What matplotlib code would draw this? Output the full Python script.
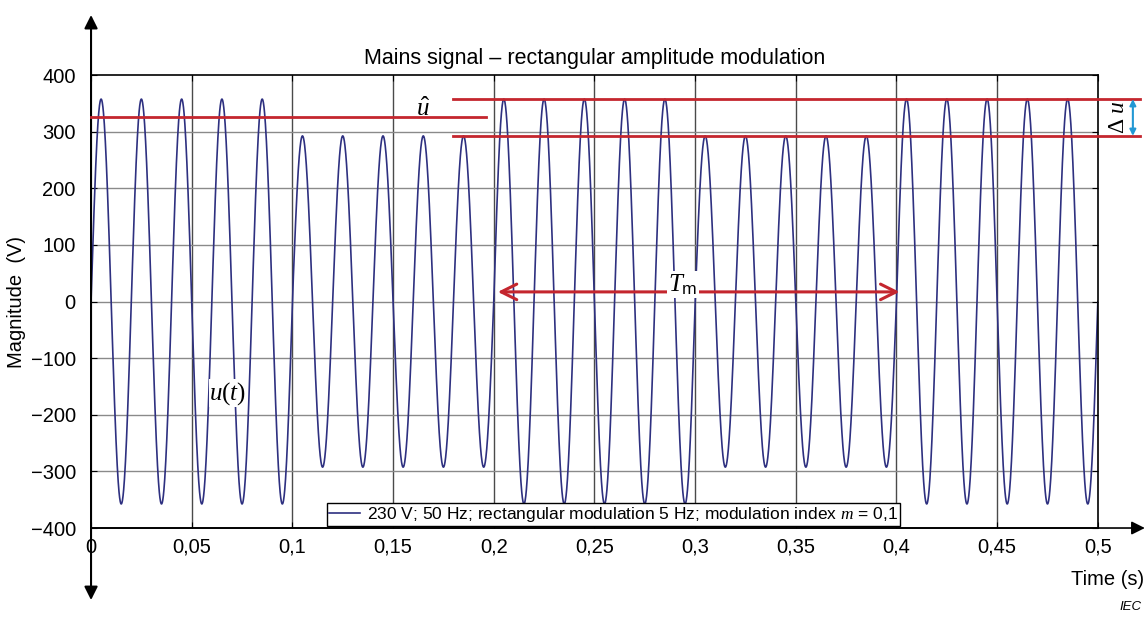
import numpy as np
import matplotlib
matplotlib.use("Agg")
import matplotlib.pyplot as plt

plt.rcParams['font.family'] = ['Liberation Sans', 'DejaVu Sans']
plt.rcParams['mathtext.fontset'] = 'custom'
plt.rcParams['mathtext.rm'] = 'Liberation Serif'
plt.rcParams['mathtext.it'] = 'Liberation Serif:italic'
plt.rcParams['mathtext.sf'] = 'Liberation Sans'

# signal description (from legend / picture)
mains_freq = 50.0                      # Hz
seg_edges = [0.0, 0.1, 0.2, 0.3, 0.4, 0.5]
seg_amplitude = [357.5, 292.5, 357.5, 292.5, 357.5]   # peak values (V)
u_hat = 325.0
tm_start, tm_end, tm_level = 0.202, 0.4015, 17

x_ticks = [0, 0.05, 0.1, 0.15, 0.2, 0.25, 0.3, 0.35, 0.4, 0.45, 0.5]
x_labels = ['0', '0,05', '0,1', '0,15', '0,2', '0,25', '0,3', '0,35', '0,4', '0,45', '0,5']
y_ticks = [-400, -300, -200, -100, 0, 100, 200, 300, 400]

navy = '#2e3080'
red = '#c4262e'
blue = '#2398d4'

t = np.linspace(0, 0.5, 5001)
amp = np.array(seg_amplitude)[np.clip(np.searchsorted(seg_edges, t, side='right') - 1, 0, 4)]
u = amp * np.sin(2 * np.pi * mains_freq * t)

fig = plt.figure(figsize=(11.48, 6.18), dpi=100)
ax = fig.add_axes([0.0793, 0.1456, 0.877, 0.733])

ax.plot(t, u, color=navy, lw=1.2,
        label='230 V; 50 Hz; rectangular modulation 5 Hz; modulation index $m$ = 0,1')

ax.set_xlim(0, 0.5)
ax.set_ylim(-400, 400)
ax.set_xticks(x_ticks)
ax.set_xticklabels(x_labels)
ax.set_yticks(y_ticks)
ax.set_yticklabels([str(v).replace('-', '\u2212') for v in y_ticks])
ax.tick_params(labelsize=14.5, direction='in', length=4, top=True, right=True)
ax.tick_params(axis='x', pad=7)
ax.tick_params(axis='y', pad=11)

for x in x_ticks[1:-1]:
    ax.axvline(x, color='#4a4a4a', lw=1.0, zorder=0)
for y in y_ticks[1:-1]:
    ax.axhline(y, color='#8a8a8a', lw=1.0, zorder=0)

for s in ax.spines.values():
    s.set_linewidth(1.2)
ax.spines['left'].set_visible(False)

# axis arrows
ax.annotate('', xy=(0, 1.1325), xytext=(0, -0.159), xycoords='axes fraction',
            arrowprops=dict(arrowstyle='<|-|>', color='black', lw=1.5,
                            mutation_scale=20, shrinkA=0, shrinkB=0))
ax.annotate('', xy=(1.0467, 0), xytext=(0, 0), xycoords='axes fraction',
            arrowprops=dict(arrowstyle='-|>', color='black', lw=1.2,
                            mutation_scale=20, shrinkA=0, shrinkB=0))

# red reference lines
ax.plot([0, 0.196], [u_hat, u_hat], color=red, lw=2, clip_on=False, zorder=3)
ax.plot([0.18, 0.5208], [seg_amplitude[0]] * 2, color=red, lw=2, clip_on=False, zorder=3)
ax.plot([0.18, 0.5208], [seg_amplitude[1]] * 2, color=red, lw=2, clip_on=False, zorder=3)

# delta u arrow
ax.annotate('', xy=(0.5174, seg_amplitude[0]), xytext=(0.5174, seg_amplitude[1]),
            xycoords='data', annotation_clip=False,
            arrowprops=dict(arrowstyle='<|-|>', color=blue, lw=1.5,
                            mutation_scale=9, shrinkA=0, shrinkB=0))
ax.text(0.5100, 325, r'$\Delta\ u$', rotation=90, ha='center', va='center',
        fontsize=17, clip_on=False)

# Tm arrow
ax.annotate('', xy=(tm_start, tm_level), xytext=(tm_end, tm_level),
            arrowprops=dict(arrowstyle='<->', color=red, lw=2.2,
                            mutation_scale=28, shrinkA=0, shrinkB=0), zorder=4)
ax.text(0.294, 30, r'$T_{\mathsf{m}}$', ha='center', va='center', fontsize=18,
        bbox=dict(facecolor='white', edgecolor='none', pad=1), zorder=4)

ax.text(0.068, -162, r'$u\mathit{(t)}$', ha='center', va='center', fontsize=18,
        bbox=dict(facecolor='white', edgecolor='none', pad=0.5), zorder=4)
ax.text(0.165, 340, r'$\hat{u}$', ha='center', va='center', fontsize=18, zorder=4)

leg = ax.legend(loc='lower center', bbox_to_anchor=(0.519, 0.004), fontsize=12.5,
                frameon=True, fancybox=False, edgecolor='black', framealpha=1,
                borderpad=0.12, handlelength=1.8, handletextpad=0.4, borderaxespad=0)
leg.get_frame().set_linewidth(1.0)

ax.set_title('Mains signal \u2013 rectangular amplitude modulation', fontsize=15.5, pad=8)
ax.set_ylabel('Magnitude  (V)', fontsize=14.5)
ax.yaxis.set_label_coords(-0.0645, 0.5)
fig.text(0.9965, 0.062, 'Time (s)', ha='right', va='center', fontsize=14.5)
fig.text(0.994, 0.018, 'IEC', ha='right', va='center', fontsize=9.5, style='italic')

fig.savefig('out.png', dpi=100)
